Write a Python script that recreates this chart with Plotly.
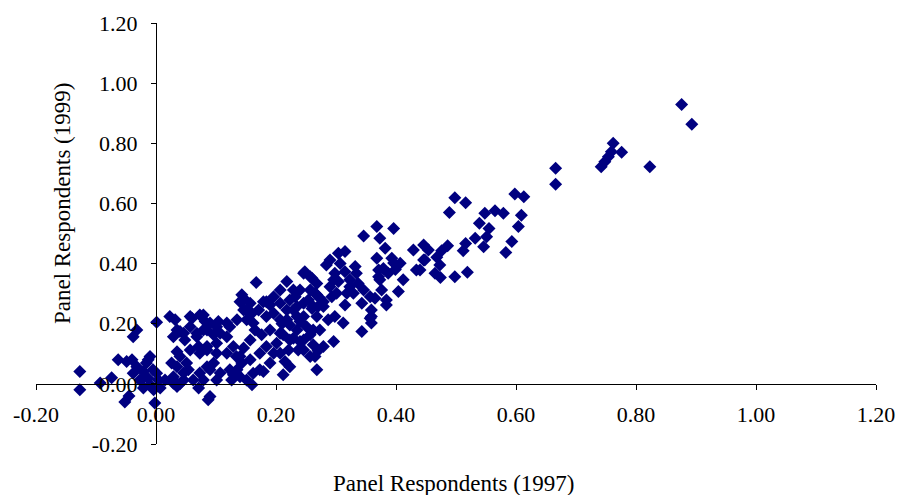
import plotly.graph_objects as go

# Panel respondents: value in 1997 (x) and 1999 (y)
x1997 = [
    -0.127, -0.127, -0.093, -0.074, -0.045, -0.052, -0.063, -0.049, -0.032, -0.021,
    -0.013, -0.027, -0.038, -0.010, -0.004, 0.004, 0.001, -0.002, 0.001, -0.032,
    -0.038, -0.040, -0.010, -0.016, -0.005, -0.013, -0.024, -0.021, 0.007,
    0.023, 0.032, 0.029, 0.040, 0.048, 0.035, 0.026, 0.029, 0.035, 0.035,
    0.032, 0.046, 0.057, 0.071, 0.054, 0.062, 0.046, 0.073, 0.057, 0.073,
    0.068, 0.046, 0.057, 0.060, 0.035, 0.071, 0.087, 0.068, 0.040, 0.051,
    0.073, 0.085, 0.015, 0.029, 0.040,
    0.082, 0.085, 0.101, 0.118, 0.135, 0.151, 0.140, 0.085, 0.101, 0.118,
    0.129, 0.140, 0.151, 0.135, 0.107, 0.090, 0.079, 0.101, 0.126, 0.140,
    0.079, 0.090, 0.104, 0.143, 0.146, 0.157, 0.090, 0.134, 0.123, 0.157,
    0.143, 0.134, 0.146, 0.157, 0.151, 0.123, 0.118, 0.101, 0.096, 0.085,
    0.079, 0.096, 0.107, 0.146, 0.160, 0.160, 0.129, 0.146,
    0.167, 0.179, 0.190, 0.218, 0.229, 0.246, 0.257, 0.268, 0.268, 0.235,
    0.246, 0.262, 0.218, 0.235, 0.251, 0.262, 0.207, 0.223, 0.246, 0.262,
    0.221, 0.237, 0.215, 0.223, 0.265, 0.173, 0.162, 0.190, 0.196, 0.184,
    0.173, 0.165, 0.176, 0.190, 0.162, 0.207, 0.196, 0.207, 0.223, 0.240,
    0.257, 0.270, 0.246, 0.218, 0.235, 0.246, 0.257, 0.268, 0.207, 0.201,
    0.184, 0.196, 0.207, 0.171, 0.179, 0.212, 0.184, 0.232, 0.279, 0.248,
    0.260, 0.265, 0.273, 0.279, 0.254, 0.260, 0.268, 0.229, 0.210, 0.223,
    0.240, 0.212, 0.229, 0.240, 0.257, 0.273, 0.270, 0.279, 0.296,
    0.284, 0.290, 0.304, 0.315, 0.298, 0.304, 0.293, 0.301, 0.312, 0.287,
    0.298, 0.307, 0.315, 0.332, 0.334, 0.323, 0.337, 0.329, 0.296, 0.290,
    0.318, 0.323, 0.346, 0.343, 0.357, 0.343, 0.357, 0.359, 0.346, 0.315,
    0.384,
    0.368, 0.396, 0.373, 0.382, 0.368, 0.393, 0.407, 0.379, 0.387, 0.412,
    0.371, 0.404, 0.384, 0.365, 0.359, 0.359, 0.371, 0.373, 0.376, 0.396,
    0.448, 0.399, 0.429, 0.434, 0.446, 0.454, 0.468, 0.446, 0.473, 0.465,
    0.474, 0.498, 0.519, 0.440,
    0.476, 0.486, 0.512, 0.516, 0.546, 0.532, 0.551, 0.555, 0.539, 0.593,
    0.583, 0.604, 0.609, 0.579, 0.565, 0.548, 0.489, 0.498, 0.516, 0.598,
    0.613,
    0.666, 0.666, 0.742, 0.748, 0.754, 0.759, 0.776, 0.762, 0.823, 0.876,
    0.893,
]
y1999 = [
    0.041, -0.020, 0.003, 0.020, -0.040, -0.060, 0.080, 0.074, 0.057, 0.041,
    0.080, 0.013, 0.035, -0.003, -0.020, 0.013, 0.035, -0.064, 0.205, 0.179,
    0.157, 0.080, 0.091, 0.069, 0.047, 0.019, 0.013, -0.014, -0.014,
    0.224, 0.213, 0.157, 0.174, 0.146, 0.107, 0.069, 0.024, -0.009, 0.057,
    0.008, 0.036, 0.113, 0.124, 0.047, 0.013, 0.013, 0.036, 0.224, 0.229,
    0.168, 0.168, 0.190, 0.218, 0.179, -0.014, -0.053, 0.157, 0.091, 0.069,
    0.102, 0.124, 0.013, 0.002, 0.000,
    0.207, 0.179, 0.190, 0.202, 0.213, 0.246, 0.273, 0.113, 0.135, 0.102,
    0.124, 0.091, 0.013, 0.047, 0.036, 0.047, 0.013, 0.013, 0.013, 0.024,
    0.229, 0.202, 0.207, 0.296, 0.279, 0.268, -0.042, 0.035, 0.047, 0.080,
    0.069, 0.091, 0.119, 0.146, 0.213, 0.190, 0.157, 0.102, 0.069, 0.057,
    0.179, 0.163, 0.168, 0.246, 0.235, -0.003, 0.030, 0.285,
    0.337, 0.273, 0.262, 0.340, 0.312, 0.368, 0.356, 0.334, 0.296, 0.257,
    0.268, 0.257, 0.213, 0.224, 0.190, 0.179, 0.168, 0.146, 0.146, 0.130,
    0.113, 0.113, 0.074, 0.057, 0.091, 0.047, 0.035, 0.069, 0.102, 0.124,
    0.102, 0.179, 0.163, 0.179, 0.202, 0.312, 0.290, 0.268, 0.279, 0.312,
    0.312, 0.257, 0.224, 0.246, 0.179, 0.113, 0.091, 0.047, 0.102, 0.135,
    0.224, 0.235, 0.213, 0.246, 0.041, 0.030, 0.273, 0.290, 0.273, 0.373,
    0.351, 0.301, 0.285, 0.257, 0.279, 0.251, 0.224, 0.246, 0.200, 0.196,
    0.207, 0.163, 0.152, 0.141, 0.163, 0.179, 0.110, 0.124, 0.141,
    0.395, 0.412, 0.434, 0.440, 0.368, 0.340, 0.290, 0.301, 0.202, 0.213,
    0.224, 0.400, 0.373, 0.390, 0.368, 0.346, 0.334, 0.301, 0.346, 0.323,
    0.301, 0.323, 0.312, 0.268, 0.290, 0.174, 0.218, 0.246, 0.492, 0.262,
    0.279,
    0.523, 0.517, 0.484, 0.451, 0.418, 0.418, 0.401, 0.384, 0.368, 0.346,
    0.356, 0.307, 0.262, 0.285, 0.224, 0.202, 0.379, 0.346, 0.312, 0.402,
    0.412, 0.380, 0.445, 0.379, 0.462, 0.445, 0.421, 0.412, 0.395, 0.368,
    0.354, 0.356, 0.371, 0.379,
    0.443, 0.459, 0.443, 0.467, 0.456, 0.484, 0.489, 0.517, 0.534, 0.473,
    0.437, 0.523, 0.561, 0.567, 0.576, 0.567, 0.570, 0.619, 0.602, 0.631,
    0.622,
    0.664, 0.717, 0.722, 0.739, 0.755, 0.772, 0.770, 0.800, 0.722, 0.929,
    0.863,
]

tick_vals = [-0.2, 0.0, 0.2, 0.4, 0.6, 0.8, 1.0, 1.2]
tick_text = ["-0.20", "0.00", "0.20", "0.40", "0.60", "0.80", "1.00", "1.20"]
x_title = "Panel Respondents (1997)"
y_title = "Panel Respondents (1999)"

FONT = "Times New Roman, Liberation Serif, serif"
zero_frac = 0.2 / 1.4

fig = go.Figure(
    go.Scatter(
        x=x1997, y=y1999, mode="markers",
        marker=dict(symbol="diamond", size=10, color="#000080",
                    line=dict(width=0)),
        hoverinfo="x+y",
        cliponaxis=False,
    )
)

axis_common = dict(
    range=[-0.2, 1.2], tickvals=tick_vals, ticktext=tick_text,
    showline=True, linecolor="black", linewidth=1,
    ticks="outside", ticklen=5, tickcolor="black", tickwidth=1,
    showgrid=False, zeroline=False, anchor="free", position=zero_frac,
    automargin=False,
    tickfont=dict(family=FONT, size=22, color="black"),
)

fig.update_layout(
    width=899, height=495,
    margin=dict(l=36, r=23, t=23, b=51, autoexpand=False),
    paper_bgcolor="white", plot_bgcolor="white",
    showlegend=False,
    xaxis=dict(**axis_common, ticklabelstandoff=6),
    yaxis=dict(**axis_common, ticklabelstandoff=9),
    annotations=[
        dict(text=x_title, xref="paper", yref="paper", x=0.4976, y=-0.095,
             xanchor="center", yanchor="middle", showarrow=False,
             font=dict(family=FONT, size=23, color="black")),
        dict(text=y_title, xref="paper", yref="paper", x=0.031, y=0.57,
             xanchor="center", yanchor="middle", showarrow=False, textangle=-90,
             font=dict(family=FONT, size=23, color="black")),
    ],
)

fig.write_html(
    "out.html",
    config={"displayModeBar": False},
    post_script="document.body.style.margin='0px';document.body.style.overflow='hidden';",
)
